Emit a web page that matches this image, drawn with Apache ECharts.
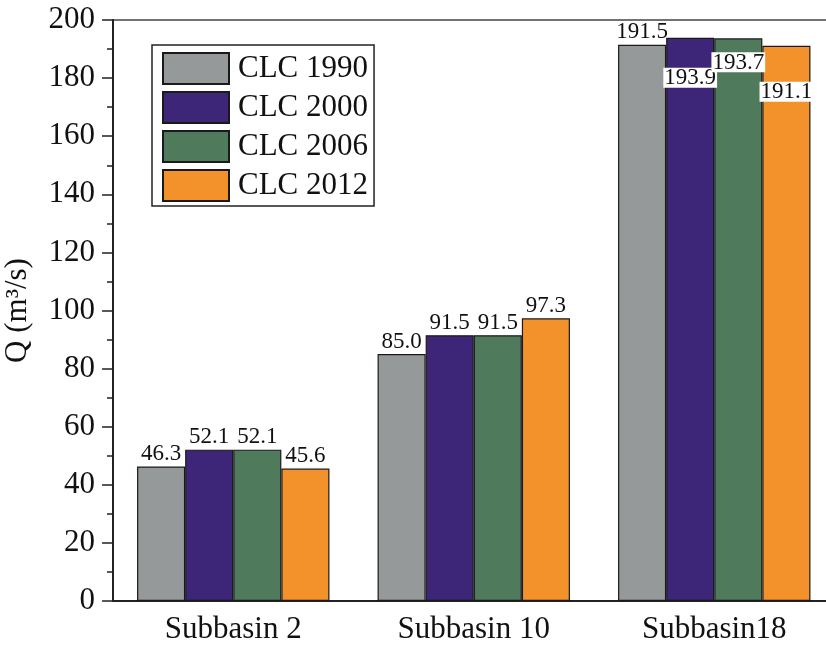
<!DOCTYPE html>
<html>
<head>
<meta charset="utf-8">
<script src="https://cdn.jsdelivr.net/npm/echarts@6/dist/echarts.min.js"></script>
<style>html,body{margin:0;padding:0;background:#fff;}#c{width:826px;height:645px;}</style>
</head>
<body>
<div id="c"></div>
<script>
const categories = ['Subbasin 2', 'Subbasin 10', 'Subbasin18'];
const seriesNames = ['CLC 1990', 'CLC 2000', 'CLC 2006', 'CLC 2012'];
const clc1990 = [46.3, 85.0, 191.5];
const clc2000 = [52.1, 91.5, 193.9];
const clc2006 = [52.1, 91.5, 193.7];
const clc2012 = [45.6, 97.3, 191.1];
const yTicks = [0, 20, 40, 60, 80, 100, 120, 140, 160, 180, 200];

const allValues = [clc1990, clc2000, clc2006, clc2012];
const colors = ['#96999a', '#3d2677', '#507a5c', '#f3922a'];
const FONT = '"Liberation Serif", "Times New Roman", serif';
// Labels drawn inside the bar (white box) for the third group
const insideDist = {1: 30, 2: 14, 3: 36};

const series = allValues.map((vals, si) => ({
  name: seriesNames[si],
  type: 'bar',
  barGap: '0%',
  barCategoryGap: '20%',
  itemStyle: {color: colors[si], borderColor: '#1a1a1a', borderWidth: 1.2},
  label: {
    show: true, position: 'top', distance: 1,
    color: '#111', fontFamily: FONT, fontSize: 23,
    formatter: p => p.value.toFixed(1)
  },
  data: vals.map((v, ci) => {
    if (ci === 2 && insideDist[si] !== undefined) {
      return {value: v, label: {position: 'insideTop', distance: insideDist[si],
        backgroundColor: '#fff', padding: [1, 1, 0, 1], lineHeight: 19}};
    }
    return v;
  })
}));

const chart = echarts.init(document.getElementById('c'));
chart.setOption({
  animation: false,
  backgroundColor: '#fff',
  grid: {left: 113, top: 20, right: -8.5, bottom: 44, outerBoundsMode: 'none', containLabel: false,
    show: true, borderColor: '#444', borderWidth: 1.5},
  legend: {
    orient: 'vertical', left: 152, top: 45,
    icon: 'rect',
    itemWidth: 66, itemHeight: 31, itemGap: 6,
    padding: [7, 6, 4, 10],
    borderColor: '#222', borderWidth: 1.5,
    textStyle: {fontFamily: FONT, fontSize: 31, lineHeight: 31, color: '#111', padding: [0, 0, 0, 4]},
    data: seriesNames
  },
  xAxis: {
    type: 'category', data: categories,
    axisLine: {lineStyle: {color: '#222', width: 2}},
    axisTick: {alignWithLabel: true, length: 11, lineStyle: {color: '#222', width: 1.5}},
    axisLabel: {fontFamily: FONT, fontSize: 31, color: '#111', margin: 13}
  },
  yAxis: {
    type: 'value', min: yTicks[0], max: yTicks[yTicks.length - 1], interval: yTicks[1] - yTicks[0],
    name: 'Q (m³/s)', nameLocation: 'middle', nameGap: 80,
    nameTextStyle: {fontFamily: FONT, fontSize: 31, color: '#111'},
    axisLine: {show: true, lineStyle: {color: '#222', width: 2}},
    axisTick: {show: true, length: 11, lineStyle: {color: '#222', width: 1.5}},
    minorTick: {show: true, splitNumber: 2, length: 6, lineStyle: {color: '#222', width: 1.5}},
    splitLine: {show: false},
    axisLabel: {fontFamily: FONT, fontSize: 31, color: '#111', margin: 18}
  },
  series: series
});
</script>
</body>
</html>
